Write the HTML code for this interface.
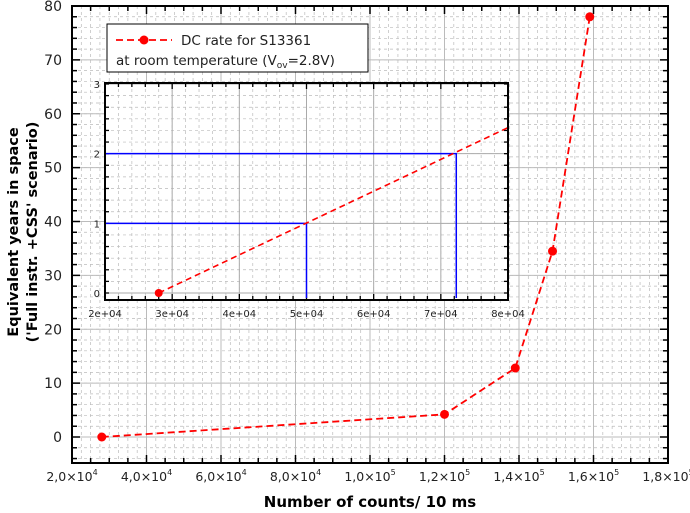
<!DOCTYPE html>
<html><head><meta charset="utf-8"><style>
body{margin:0;background:#fff;}
svg{display:block;font-family:"DejaVu Sans","Liberation Sans",sans-serif;}
</style></head><body>
<svg id="chart" width="690" height="513"></svg>
<script>
const xValues=[28000,120000,139000,149000,159000];
const yValues=[0,4.2,12.8,34.5,78];
const xTickLabels=["2,0","4,0","6,0","8,0","1,0","1,2","1,4","1,6","1,8"];
const xTickExps=["4","4","4","4","5","5","5","5","5"];
const yTickLabels=["0","10","20","30","40","50","60","70","80"];
const insetXLabels=["2e+04","3e+04","4e+04","5e+04","6e+04","7e+04","8e+04"];
const insetYLabels=["0","1","2","3"];
const insetMarks=[[50000,1],[72300,2]];

const NS="http://www.w3.org/2000/svg";
const svg=document.getElementById('chart');
function el(t,a,p){const e=document.createElementNS(NS,t);for(const k in a)e.setAttribute(k,a[k]);(p||svg).appendChild(e);return e;}
const L=72,R=668,T=6,B=463;
const X=v=>L+(v-20000)/160000*(R-L);
const Y=v=>437-v*(437-6)/80;
const g=el('g',{});


for(let v=20000;v<=180000;v+=2500){el('line',{x1:X(v),x2:X(v),y1:T,y2:B,stroke:'#bbb','stroke-dasharray':'3,3','stroke-width':0.7},g);}
for(let v=-4;v<=80;v+=2){el('line',{x1:L,x2:R,y1:Y(v),y2:Y(v),stroke:'#bbb','stroke-dasharray':'3,3','stroke-width':0.7},g);}
for(let i=0;i<9;i++){const v=20000+i*20000;el('line',{x1:X(v),x2:X(v),y1:T,y2:B,stroke:'#bbb','stroke-width':1},g);}
for(let i=0;i<9;i++){el('line',{x1:L,x2:R,y1:Y(i*10),y2:Y(i*10),stroke:'#bbb','stroke-width':1},g);}
for(let v=20000;v<=180000;v+=5000){const big=v%20000===0;el('line',{x1:X(v),x2:X(v),y1:B,y2:B-(big?8:5),stroke:'#000','stroke-width':1.5},g);el('line',{x1:X(v),x2:X(v),y1:T,y2:T+(big?8:5),stroke:'#000','stroke-width':1.5},g);}
for(let v=-4;v<=80;v+=2){const big=v%10===0;el('line',{x1:L,x2:L+(big?8:5),y1:Y(v),y2:Y(v),stroke:'#000','stroke-width':1.5},g);el('line',{x1:R,x2:R-(big?8:5),y1:Y(v),y2:Y(v),stroke:'#000','stroke-width':1.5},g);}
el('rect',{x:L,y:T,width:R-L,height:B-T,fill:'none',stroke:'#000','stroke-width':2},g);
xTickLabels.forEach((s,i)=>{const t=el('text',{x:X(20000+i*20000),y:481,'text-anchor':'middle','font-size':12.5,fill:'#222'},g);t.innerHTML=s+'×10<tspan font-size="8" dy="-6">'+xTickExps[i]+'</tspan>';});
yTickLabels.forEach((s,i)=>{const t=el('text',{x:62,y:Y(i*10)+5,'text-anchor':'end','font-size':14,fill:'#222'},g);t.textContent=s;});
let t=el('text',{x:370,y:507,'text-anchor':'middle','font-size':15,'font-weight':'bold'});t.textContent='Number of counts/ 10 ms';

t=el('text',{transform:'translate(18,232) rotate(-90)','text-anchor':'middle','font-size':14.5,'font-weight':'bold'});t.innerHTML='<tspan x="0" y="0">Equivalent years in space</tspan><tspan x="0" y="19">(\'Full instr. +CSS\' scenario)</tspan>';

const pts=xValues.map((v,i)=>X(v)+','+Y(yValues[i])).join(' ');
const pl=el('polyline',{points:pts,fill:'none',stroke:'#f00','stroke-width':1.8,'stroke-dasharray':'7,4'});

xValues.forEach((v,i)=>{const c=el('circle',{cx:X(v),cy:Y(yValues[i]),r:4.5,fill:'#f00'});});
const lg=el('g',{});
el('rect',{x:107,y:24,width:261,height:48,fill:'#fff',stroke:'#000','stroke-width':1},lg);
el('line',{x1:116,x2:172,y1:40,y2:40,stroke:'#f00','stroke-width':1.8,'stroke-dasharray':'7,4'},lg);
el('circle',{cx:144,cy:40,r:4.5,fill:'#f00'},lg);
t=el('text',{x:181,y:45,'font-size':13.5,fill:'#222'},lg);t.textContent='DC rate for S13361';
t=el('text',{x:116,y:65,'font-size':13.5,fill:'#222'},lg);t.innerHTML='at room temperature (V<tspan font-size="9" dy="3">ov</tspan><tspan dy="-3">=2.8V)</tspan>';
const il=105,ir=508,it=83,ib=300;
const IX=v=>il+(v-20000)/60000*(ir-il);
const IY=v=>293-v*(293-84)/3;
const ig=el('g',{});
el('rect',{x:il,y:it,width:ir-il,height:ib-it,fill:'#fff'},ig);
for(let v=20000;v<=80000;v+=2000)el('line',{x1:IX(v),x2:IX(v),y1:it,y2:ib,stroke:'#bbb','stroke-dasharray':'3,3','stroke-width':0.7},ig);
for(let k=0;k<=18;k++)el('line',{x1:il,x2:ir,y1:IY(k/6),y2:IY(k/6),stroke:'#bbb','stroke-dasharray':'3,3','stroke-width':0.7},ig);
for(let v=20000;v<=80000;v+=10000)el('line',{x1:IX(v),x2:IX(v),y1:it,y2:ib,stroke:'#aaa'},ig);
for(let v=0;v<=3;v++)el('line',{x1:il,x2:ir,y1:IY(v),y2:IY(v),stroke:'#aaa'},ig);
for(let v=20000;v<=80000;v+=2000){const big=v%10000===0;el('line',{x1:IX(v),x2:IX(v),y1:ib,y2:ib-(big?6:4),stroke:'#000','stroke-width':1.3},ig);el('line',{x1:IX(v),x2:IX(v),y1:it,y2:it+(big?6:4),stroke:'#000','stroke-width':1.3},ig);}
for(let k=0;k<=18;k++){el('line',{x1:il,x2:il+4,y1:IY(k/6),y2:IY(k/6),stroke:'#000','stroke-width':1.3},ig);el('line',{x1:ir,x2:ir-4,y1:IY(k/6),y2:IY(k/6),stroke:'#000','stroke-width':1.3},ig);}
insetMarks.forEach(m=>{el('polyline',{points:`${il},${IY(m[1])} ${IX(m[0])},${IY(m[1])} ${IX(m[0])},${ib-2}`,fill:'none',stroke:'#00f','stroke-width':1.5},ig);});
const slope=(yValues[1]-yValues[0])/(xValues[1]-xValues[0]);
const iy2=yValues[0]+slope*(80000-xValues[0]);
const il2=el('line',{x1:IX(xValues[0]),y1:IY(yValues[0]),x2:IX(80000),y2:IY(iy2),stroke:'#f00','stroke-width':1.6,'stroke-dasharray':'6,4'},ig);

el('circle',{cx:IX(xValues[0]),cy:IY(yValues[0]),r:4,fill:'#f00'},ig);
el('rect',{x:il,y:it,width:ir-il,height:ib-it,fill:'none',stroke:'#000','stroke-width':2},ig);
insetXLabels.forEach((s,i)=>{const tt=el('text',{x:IX(20000+i*10000),y:317,'text-anchor':'middle','font-size':10,fill:'#222'},ig);tt.textContent=s;});
insetYLabels.forEach((s,i)=>{const tt=el('text',{x:100,y:IY(i)+4,'text-anchor':'end','font-size':10,fill:'#222'},ig);tt.textContent=s;});
</script>
</body></html>
